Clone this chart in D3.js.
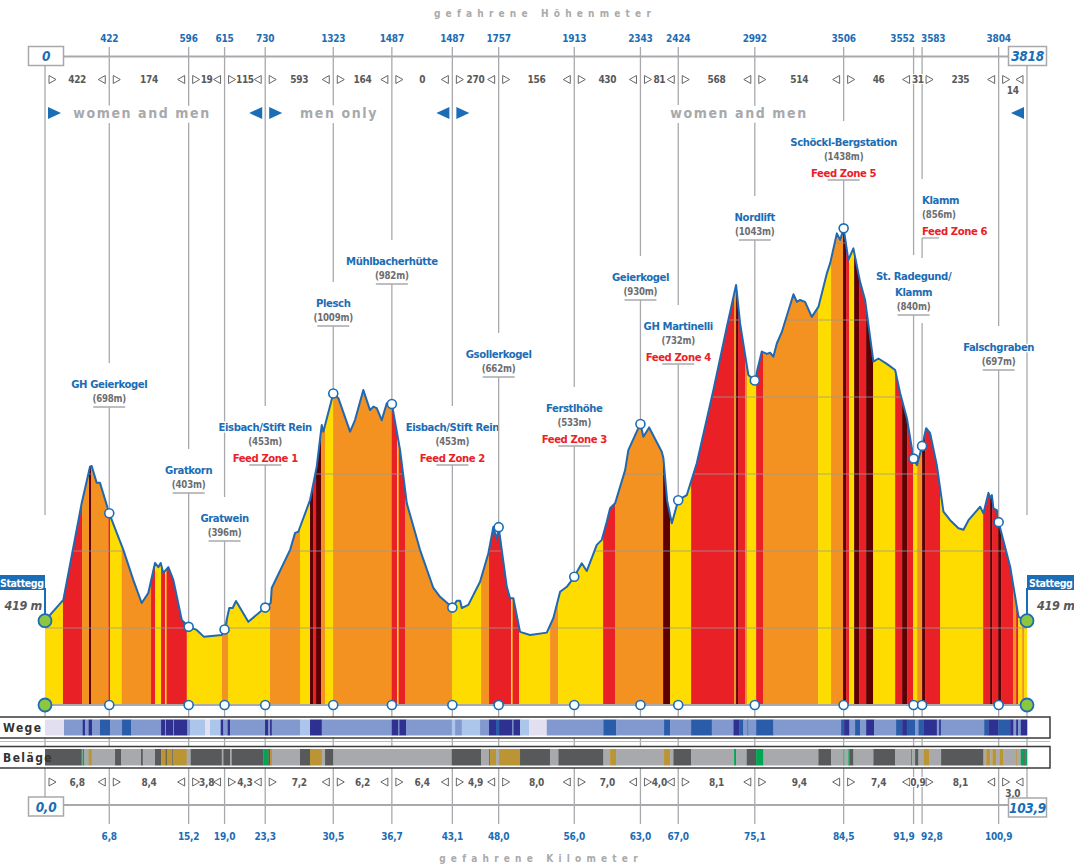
<!DOCTYPE html>
<html>
<head>
<meta charset="utf-8">
<script src="https://cdn.jsdelivr.net/npm/d3@7"></script>
<style>
  body { margin: 0; background: #fff; }
  svg { display: block; font-family: "Liberation Sans Narrow", "DejaVu Sans Condensed", "Roboto", sans-serif; }
</style>
</head>
<body>
<div id="chart"></div>
<script>
// elevation profile (km, m)
var profileKm = [0,1.94,3.88,4.76,4.94,5.47,5.82,6.8,7.59,8.29,9.34,10.23,10.93,11.64,11.99,12.24,12.52,13.05,13.58,14.47,
  15.2,16.05,16.83,18.7,19.0,19.5,19.86,20.21,21.51,23.3,23.88,23.99,25.93,26.46,26.8,28.04,28.75,29.28,29.45,30.5,
  31.04,32.28,32.8,33.68,34.39,34.74,35.1,35.63,36.16,36.7,37.57,38.28,39.68,41.09,41.8,43.1,43.57,43.92,44.1,44.79,
  46.03,46.91,47.44,47.8,48.0,48.86,49.21,49.56,50.26,51.32,53.09,53.79,54.5,55.21,56.0,56.79,57.32,58.38,58.91,59.44,
  59.79,60.32,61.38,61.72,62.68,63.0,63.31,63.92,65.26,65.43,65.82,66.32,67.0,67.9,68.96,70.72,72.14,73.12,73.54,74.42,
  75.1,75.84,76.37,76.72,77.07,77.43,77.96,79.19,79.55,79.89,80.42,81.13,81.83,82.72,83.07,83.78,84.13,84.5,85.0,85.53,
  86.24,86.77,87.65,88.18,89.07,89.95,90.48,91.19,91.9,92.25,92.8,93.23,93.65,94.36,95.06,95.77,96.65,97.18,97.71,98.94,
  99.29,99.82,100.0,100.18,100.35,100.71,100.9,102.12,103.0,103.9];
var profileEle = [419,473,724,819,821,777,777,698,647,603,525,465,491,569,558,569,543,558,525,421,
  403,395,377,382,396,452,452,470,416,453,465,504,603,647,650,732,819,927,910,1009,
  997,910,940,1018,966,975,971,940,984,982,862,724,603,504,481,453,471,471,452,460,
  520,594,663,629,662,507,477,477,390,382,388,426,494,507,533,568,548,616,629,676,
  711,724,810,862,914,930,897,921,858,841,732,672,732,745,828,1018,1182,1291,1192,1057,
  1043,1118,1112,1115,1105,1139,1169,1267,1247,1252,1247,1208,1234,1321,1347,1425,1408,1438,1356,1386,
  1299,1252,1092,1100,1086,1070,1010,945,840,823,873,919,906,823,702,680,659,655,680,715,
  698,751,738,745,711,706,675,559,429,419];

// waypoints
var wpKm = [6.8,15.2,19.0,23.3,30.5,36.7,43.1,48.0,56.0,63.0,67.0,75.1,84.5,91.9,92.8,100.9];
var wpKmText = ["6,8","15,2","19,0","23,3","30,5","36,7","43,1","48,0","56,0","63,0","67,0","75,1","84,5","91,9","92,8","100,9"];
var wpClimb = [422,596,615,730,1323,1487,1487,1757,1913,2343,2424,2992,3506,3552,3583,3804];
var wpName = ["GH Geierkogel","Gratkorn","Gratwein","Eisbach/Stift Rein","Plesch","Mühlbacherhütte","Eisbach/Stift Rein",
  "Gsollerkogel","Ferstlhöhe","Geierkogel","GH Martinelli","Nordlift","Schöckl-Bergstation","St. Radegund/|Klamm","Klamm","Falschgraben"];
var wpEle = [698,403,396,453,1009,982,453,662,533,930,732,1043,1438,840,856,697];
var wpFeed = ["","","","Feed Zone 1","","","Feed Zone 2","","Feed Zone 3","","Feed Zone 4","","Feed Zone 5","","Feed Zone 6",""];

// segment differences
var climbDiff = ["422","174","19","115","593","164","0","270","156","430","81","568","514","46","31","235","14"];
var kmDiff = ["6,8","8,4","3,8","4,3","7,2","6,2","6,4","4,9","8,0","7,0","4,0","8,1","9,4","7,4","0,9","8,1","3,0"];

// gradient bands (start km, class)
var gradeStart = [0,1.9,3.92,4.66,4.87,6.72,6.88,8.12,11.22,11.64,12.28,12.7,12.86,15.0,18.73,19.37,23.81,26.98,28.04,28.36,
  28.68,29.21,29.63,30.48,36.69,37.25,37.41,38.1,43.07,46.14,46.98,49.31,49.47,50.16,53.44,54.29,59.05,60.32,65.4,66.14,
  68.36,72.91,73.12,73.33,74.07,74.29,75.24,75.98,81.8,83.17,84.44,84.76,85.08,85.61,86.14,86.88,87.62,89.95,90.69,91.22,
  91.85,92.28,92.8,93.12,94.71,99.26,100.0,100.21,100.85,101.16,102.43,102.75,102.96,103.39,103.6];
var gradeClass = "YRODORYORYRYRYOYOYDRDOYORYROYORYRYOYRODYRODROYROYODRYDRDYRDRYODRYRDRDRORYOY".split("");

// Wege strip
var wegeStart = [0,2.01,3.99,4.23,4.62,4.97,5.82,6.88,8.15,9.10,12.28,12.7,12.8,13.58,13.65,15.06,15.34,16.93,17.46,18.59,
  18.87,19.33,19.58,23.28,23.63,23.81,23.99,26.98,28.04,29.28,36.69,37.39,37.49,38.2,43.04,43.39,44.1,46.03,46.98,47.72,
  48.04,49.45,49.56,50.26,51.22,53.09,59.08,60.42,65.5,66.14,68.36,70.55,72.84,73.44,73.89,74.32,74.42,75.24,77.07,84.23,
  84.55,85.11,85.71,86.24,86.88,87.72,90.05,90.69,91.18,92.06,92.41,92.94,94.36,94.6,94.78,99.37,99.82,100.88,102.12,102.47,
  102.75,102.96,103.25];
var wegeClass = "LMNMNMBMBMNMNMNMSLSNMNMNMNMSNMNMNMSMSMNBNMNSLMBMBMBMNBMBMBMBNMBMNMBNBMBNMNMBNBNMNMN".split("");

// Beläge strip
var belagStart = [0,3.88,3.99,4.16,4.62,4.94,7.41,8.04,10.16,10.34,11.64,12.28,12.77,12.88,13.47,13.58,14.99,15.42,18.7,18.87,
  19.58,19.76,23.1,23.63,23.81,24.02,26.98,28.04,29.28,29.63,30.51,43.04,46.14,46.98,47.09,47.72,48.04,50.26,53.44,54.32,
  59.08,59.79,60.42,65.5,66.14,66.49,68.36,72.91,73.12,74.25,75.24,76.01,81.83,83.17,84.48,84.58,85.0,85.11,85.53,87.65,
  89.95,91.64,91.75,92.06,92.41,92.94,93.58,94.81,99.29,99.58,100.0,100.24,100.63,100.98,101.41,102.75,102.89,103.25,103.6,103.7];
var belagClass = "DGEGOGDGDGDODODOGDGDGDEDOGDOGDGDGEOGODGDGOGOGDGEGDEGDGEGEDGDGEGDGOGDGOGOGOGOGEDE".split("");

var gridEle = [400,600,800,1000,1200,1400];
var totalKm = 103.9;

var colGrade = {Y: "#ffdc00", O: "#f39121", R: "#ea2027", D: "#5c0002"};
var colWege = {L: "#e2e0f0", M: "#8199cf", N: "#2e3191", B: "#2a5ca9", S: "#abc6ea"};
var colBelag = {D: "#58595b", G: "#a7a9ac", O: "#bb9433", E: "#00a651"};
var blue = "#1b6db5", lineGray = "#a7a9ac";

// label layout: centre of first name line
var labelY = [383,469,517,426,302,260,426,353,407,276,325,216,141,275,199,346];

var x = d3.scaleLinear().domain([0, totalKm]).range([45, 1027]);
var y = d3.scaleLinear().domain([200, 1400]).range([705, 243]);

var svg = d3.select("#chart").append("svg")
    .attr("width", 1074)
    .attr("height", 864);

var prof = profileKm.map((k, i) => ({k: k, e: profileEle[i]}));
function eleAt(k) {
  var i = d3.bisector(d => d.k).left(prof, k);
  if (i < prof.length && Math.abs(prof[i].k - k) < 1e-6) return prof[i].e;
  var a = prof[i - 1], b = prof[i];
  return a.e + (b.e - a.e) * (k - a.k) / (b.k - a.k);
}

function halo(sel, w) {
  return sel.attr("stroke", "#fff").attr("stroke-width", w).attr("stroke-linejoin", "round").attr("paint-order", "stroke");
}

// titles
svg.append("text").attr("x", 545).attr("y", 17).attr("text-anchor", "middle")
  .attr("font-size", 10).attr("font-weight", "bold").attr("fill", "#aaa").attr("letter-spacing", "5.2px")
  .text("gefahrene Höhenmeter");
svg.append("text").attr("x", 541).attr("y", 862).attr("text-anchor", "middle")
  .attr("font-size", 10).attr("font-weight", "bold").attr("fill", "#aaa").attr("letter-spacing", "5.2px")
  .text("gefahrene Kilometer");

// top axis
svg.append("line").attr("x1", 63).attr("x2", 1009).attr("y1", 56.5).attr("y2", 56.5)
  .attr("stroke", lineGray).attr("stroke-width", 2);

// vertical guide lines (top part)
var vlines = svg.append("g").attr("stroke", lineGray).attr("stroke-width", 1.3);
wpKm.forEach((k, i) => {
  vlines.append("line").attr("x1", x(k)).attr("x2", x(k)).attr("y1", 47).attr("y2", labelY[i] - 20);
});
[0, totalKm].forEach(k => {
  vlines.append("line").attr("x1", x(k)).attr("x2", x(k)).attr("y1", 65).attr("y2", 515);
});

// top tick labels
wpKm.forEach((k, i) => {
  var anchor = i == 13 ? "end" : (i == 14 ? "start" : "middle");
  var dx = i == 13 ? 1 : (i == 14 ? -1 : 0);
  svg.append("text").attr("x", x(k) + dx).attr("y", 42).attr("text-anchor", anchor)
    .attr("font-size", 10).attr("font-weight", "bold").attr("fill", blue).attr("letter-spacing", "-0.2px").text(wpClimb[i]);
});

// boxes at axis ends
function box(bx, by, w, t) {
  svg.append("rect").attr("x", bx).attr("y", by).attr("width", w).attr("height", 19)
    .attr("fill", "#fff").attr("stroke", lineGray).attr("stroke-width", 1.5);
  svg.append("text").attr("x", bx + w / 2).attr("y", by + 14.5).attr("text-anchor", "middle")
    .attr("font-size", 13.5).attr("font-weight", "bold").attr("font-style", "italic").attr("fill", blue)
    .attr("letter-spacing", "-0.3px").text(t);
}
box(28.5, 46.5, 35, "0");
box(1008.5, 46.5, 38, "3818");

// difference rows
function diffRow(labels, cy) {
  var bx = [0].concat(wpKm, [totalKm]).map(x);
  var g = svg.append("g");
  labels.forEach((t, i) => {
    var a = bx[i], b = bx[i + 1], w = b - a;
    if (w > 15) {
      g.append("path").attr("d", `M${a + 4},${cy - 4}L${a + 11},${cy}L${a + 4},${cy + 4}Z`)
        .attr("fill", "none").attr("stroke", "#666").attr("stroke-width", 1);
      g.append("path").attr("d", `M${b - 4},${cy - 4}L${b - 11},${cy}L${b - 4},${cy + 4}Z`)
        .attr("fill", "none").attr("stroke", "#666").attr("stroke-width", 1);
    }
    var tx = g.append("text").attr("x", (a + b) / 2).attr("y", (w < 30 && w > 15 ? cy + 11 : cy) + 3.5)
      .attr("text-anchor", "middle").attr("font-size", 10).attr("font-weight", "bold").attr("fill", "#58595b")
      .attr("letter-spacing", "-0.3px").text(t);
    if (w <= 15) halo(tx, 2);
  });
}
diffRow(climbDiff, 79.5);

// gender sections
function tri(px, dir) {
  var cy = 113;
  var d = dir > 0 ? `M${px},${cy - 6}L${px + 13},${cy}L${px},${cy + 6}Z` : `M${px},${cy - 6}L${px - 13},${cy}L${px},${cy + 6}Z`;
  svg.append("path").attr("d", d).attr("fill", blue);
}
tri(x(0) + 3, 1);
tri(x(23.3) - 3, -1); tri(x(23.3) + 4, 1);
tri(x(43.1) - 3, -1); tri(x(43.1) + 4, 1);
tri(x(totalKm) - 3, -1);
[["women and men", 142], ["men only", 339], ["women and men", 739]].forEach(s => {
  halo(svg.append("text").attr("x", s[1]).attr("y", 118).attr("text-anchor", "middle")
    .attr("font-size", 14).attr("font-weight", "bold").attr("fill", "#a7a9ac").attr("letter-spacing", "1.6px")
    .text(s[0]), 10);
});

// profile
var area = d3.area().x(d => x(d.k)).y0(y(200)).y1(d => y(d.e));
var line = d3.line().x(d => x(d.k)).y(d => y(d.e));
svg.append("clipPath").attr("id", "clip").append("path").attr("d", area(prof));
var pg = svg.append("g").attr("clip-path", "url(#clip)");
pg.selectAll("rect").data(gradeStart).enter().append("rect")
  .attr("x", d => x(d))
  .attr("width", (d, i) => x(i + 1 < gradeStart.length ? gradeStart[i + 1] : totalKm) - x(d) + 0.3)
  .attr("y", y(1500)).attr("height", y(200) - y(1500))
  .attr("fill", (d, i) => colGrade[gradeClass[i]]);
pg.selectAll("line.grid").data(gridEle).enter().append("line").attr("class", "grid")
  .attr("x1", x(0)).attr("x2", x(totalKm)).attr("y1", d => y(d)).attr("y2", d => y(d))
  .attr("stroke", "#9a9a9a").attr("stroke-width", 1).attr("opacity", 0.8);
svg.append("line").attr("x1", x(0)).attr("x2", x(totalKm)).attr("y1", y(200)).attr("y2", y(200))
  .attr("stroke", "#a7a9ac").attr("stroke-width", 2);
svg.append("path").attr("d", line(prof)).attr("fill", "none")
  .attr("stroke", "#1f68b2").attr("stroke-width", 2).attr("stroke-linejoin", "round");

// waypoint labels and lower guide lines
wpKm.forEach((k, i) => {
  var px = x(k), c = labelY[i];
  var anchor = i == 14 ? "start" : "middle";
  var lines = wpName[i].split("|");
  var g = svg.append("g");
  var cy = c;
  lines.forEach((t, j) => {
    halo(g.append("text").attr("x", px).attr("y", cy + 4.5).attr("text-anchor", anchor)
      .attr("font-size", 11.2).attr("font-weight", "bold").attr("fill", blue).attr("letter-spacing", "-0.4px").text(t), 3);
    cy += 16;
  });
  halo(g.append("text").attr("x", px).attr("y", cy + 2.5).attr("text-anchor", anchor)
    .attr("font-size", 9.6).attr("font-weight", "bold").attr("fill", "#6d6e71").attr("letter-spacing", "-0.2px")
    .text("(" + wpEle[i] + "m)"), 3);
  if (wpFeed[i]) {
    cy += 15;
    halo(g.append("text").attr("x", px).attr("y", cy + 4.5).attr("text-anchor", anchor)
      .attr("font-size", 11.2).attr("font-weight", "bold").attr("fill", "#ea2027").attr("letter-spacing", "-0.4px")
      .text(wpFeed[i]), 3);
  }
  var uy = cy + 8;
  var ux1 = i == 14 ? px : px - 16, ux2 = i == 14 ? px + 17 : px + 16;
  g.append("line").attr("x1", ux1).attr("x2", ux2).attr("y1", uy).attr("y2", uy)
    .attr("stroke", lineGray).attr("stroke-width", 1.3);
  var py = y(eleAt(k));
  if (i == 14) {
    g.append("line").attr("x1", px).attr("x2", px).attr("y1", uy).attr("y2", 258).attr("stroke", lineGray).attr("stroke-width", 1.3);
    g.append("line").attr("x1", px).attr("x2", px).attr("y1", 323).attr("y2", py).attr("stroke", lineGray).attr("stroke-width", 1.3);
  } else {
    g.append("line").attr("x1", px).attr("x2", px).attr("y1", uy).attr("y2", py).attr("stroke", lineGray).attr("stroke-width", 1.3);
  }
});

// lower guide lines (behind strips)
var lg = svg.append("g").attr("stroke", lineGray).attr("stroke-width", 1.3);
wpKm.forEach(k => {
  lg.append("line").attr("x1", x(k)).attr("x2", x(k)).attr("y1", y(200)).attr("y2", 824);
});
[0, totalKm].forEach(k => {
  lg.append("line").attr("x1", x(k)).attr("x2", x(k)).attr("y1", y(200)).attr("y2", 798);
});

// dots
wpKm.forEach(k => {
  [y(eleAt(k)), y(200)].forEach(cy => {
    svg.append("circle").attr("cx", x(k)).attr("cy", cy).attr("r", 4.5)
      .attr("fill", "#fff").attr("stroke", "#1b6db5").attr("stroke-width", 1.6);
  });
});

// Stattegg start / finish
[[0, -1], [totalKm, 1]].forEach(s => {
  var px = x(s[0]);
  svg.append("line").attr("x1", px).attr("x2", px).attr("y1", 588).attr("y2", 618)
    .attr("stroke", blue).attr("stroke-width", 2);
  svg.append("rect").attr("x", s[1] < 0 ? px - 50 : px).attr("y", 575).attr("width", 50).attr("height", 15).attr("fill", blue);
  svg.append("text").attr("x", s[1] < 0 ? px - 1.5 : px + 2).attr("y", 586.5)
    .attr("text-anchor", s[1] < 0 ? "end" : "start").attr("font-size", 10.5).attr("font-weight", "bold")
    .attr("letter-spacing", "-0.4px").attr("fill", "#fff").text("Stattegg");
  svg.append("text").attr("x", s[1] < 0 ? px - 3 : px + 10).attr("y", 610)
    .attr("text-anchor", s[1] < 0 ? "end" : "start").attr("font-size", 12.5).attr("font-weight", "bold")
    .attr("font-style", "italic").attr("letter-spacing", "-0.3px").attr("fill", "#58595b").text("419 m");
  [y(eleAt(s[0])), y(200)].forEach(cy => {
    svg.append("circle").attr("cx", px).attr("cy", cy).attr("r", 6.5)
      .attr("fill", "#8dc63f").attr("stroke", "#1b6db5").attr("stroke-width", 1.8);
  });
});

// strips
function strip(label, top, h, starts, classes, colors) {
  svg.append("rect").attr("x", -2).attr("y", top).attr("width", 1052).attr("height", h)
    .attr("fill", "#fff").attr("stroke", "#3a3a3a").attr("stroke-width", 1.5);
  svg.append("g").selectAll("rect").data(starts).enter().append("rect")
    .attr("x", d => x(d))
    .attr("width", (d, i) => x(i + 1 < starts.length ? starts[i + 1] : totalKm) - x(d) + 0.3)
    .attr("y", top + 2.5).attr("height", h - 5)
    .attr("fill", (d, i) => colors[classes[i]]);
  svg.append("text").attr("x", 3).attr("y", top + h / 2 + 4.5).attr("font-size", 12).attr("font-weight", "bold")
    .attr("fill", "#333").attr("letter-spacing", "1.4px").text(label);
}
strip("Wege", 717, 21, wegeStart, wegeClass, colWege);
svg.append("line").attr("x1", 0).attr("x2", 1050).attr("y1", 741.5).attr("y2", 741.5).attr("stroke", "#bbb").attr("stroke-width", 1);
strip("Beläge", 746.5, 21.5, belagStart, belagClass, colBelag);

// bottom axis
diffRow(kmDiff, 782);
svg.append("line").attr("x1", 63).attr("x2", 1009).attr("y1", 805).attr("y2", 805)
  .attr("stroke", lineGray).attr("stroke-width", 2);
box(28.5, 797, 35, "0,0");
box(1008.5, 798, 38, "103,9");
wpKm.forEach((k, i) => {
  var anchor = i == 13 ? "end" : (i == 14 ? "start" : "middle");
  var dx = i == 13 ? 1 : (i == 14 ? -1 : 0);
  svg.append("text").attr("x", x(k) + dx).attr("y", 840).attr("text-anchor", anchor)
    .attr("font-size", 10).attr("font-weight", "bold").attr("fill", blue).attr("letter-spacing", "-0.2px").text(wpKmText[i]);
});
</script>
</body>
</html>
